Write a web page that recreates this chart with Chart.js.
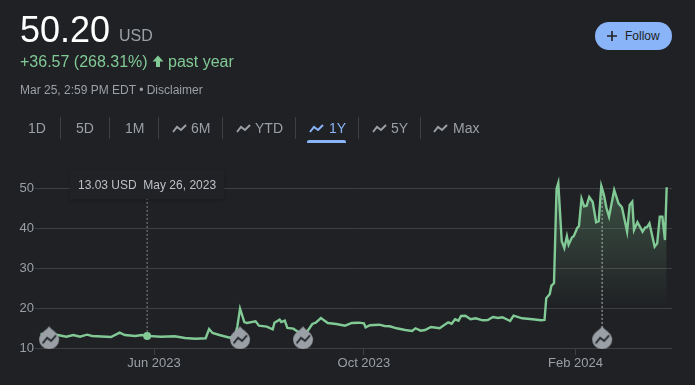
<!DOCTYPE html>
<html>
<head>
<meta charset="utf-8">
<script src="https://cdn.jsdelivr.net/npm/chart.js@4"></script>
<style>
  html, body { margin: 0; background: #202124; }
  body { width: 695px; height: 385px; position: relative; overflow: hidden; font-family: "Liberation Sans", Arial, sans-serif; color: #9aa0a6; }
  canvas { position: absolute; left: 0; top: 0; }
  .t { position: absolute; white-space: nowrap; }
  .tab { top: 118px; font-size: 14px; line-height: 20px; }
  .sep { position: absolute; top: 117px; width: 1px; height: 22px; background: #3c4043; }
  .ico { position: absolute; top: 123px; }
  #tip { position: absolute; left: 70px; top: 170px; width: 154px; height: 29px; background: #212225; box-shadow: 0 1px 4px rgba(0,0,0,.22); }
</style>
</head>
<body>
<canvas id="chart" width="695" height="385"></canvas>

<div class="t" style="left:20px;top:9px;font-size:36px;line-height:42px;color:#fff">50.20</div>
<div class="t" style="left:119px;top:26px;font-size:16px;line-height:20px">USD</div>
<div class="t" style="left:20px;top:52px;font-size:16px;line-height:20px;color:#81c995">+36.57 (268.31%)</div>
<svg class="ico" style="top:55px;left:152px" width="12" height="13" viewBox="0 0 12 13"><path d="M6 0.5 L11.5 6.5 H8 V12 H4 V6.5 H0.5 Z" fill="#81c995"/></svg>
<div class="t" style="left:168px;top:52px;font-size:16px;line-height:20px;color:#81c995">past year</div>
<div class="t" style="left:20px;top:82px;font-size:12px;line-height:16px">Mar 25, 2:59 PM EDT • Disclaimer</div>

<div class="t tab" style="left:28px">1D</div><div class="sep" style="left:60px"></div>
<div class="t tab" style="left:76px">5D</div><div class="sep" style="left:109px"></div>
<div class="t tab" style="left:125px">1M</div><div class="sep" style="left:158px"></div>
<svg class="ico" style="left:172px" width="15" height="11"><polyline points="1,9 5,4 9,7 14,2" fill="none" stroke="#9aa0a6" stroke-width="2"/></svg>
<div class="t tab" style="left:191px">6M</div><div class="sep" style="left:222px"></div>
<svg class="ico" style="left:236px" width="15" height="11"><polyline points="1,9 5,4 9,7 14,2" fill="none" stroke="#9aa0a6" stroke-width="2"/></svg>
<div class="t tab" style="left:255px">YTD</div><div class="sep" style="left:295px"></div>
<svg class="ico" style="left:309px" width="15" height="11"><polyline points="1,9 5,4 9,7 14,2" fill="none" stroke="#8ab4f8" stroke-width="2"/></svg>
<div class="t tab" style="left:329px;color:#8ab4f8">1Y</div>
<div style="position:absolute;left:307px;top:140px;width:39px;height:3px;border-radius:2px 2px 0 0;background:#8ab4f8"></div>
<div class="sep" style="left:358px"></div>
<svg class="ico" style="left:372px" width="15" height="11"><polyline points="1,9 5,4 9,7 14,2" fill="none" stroke="#9aa0a6" stroke-width="2"/></svg>
<div class="t tab" style="left:391px">5Y</div><div class="sep" style="left:420px"></div>
<svg class="ico" style="left:433px" width="15" height="11"><polyline points="1,9 5,4 9,7 14,2" fill="none" stroke="#9aa0a6" stroke-width="2"/></svg>
<div class="t tab" style="left:453px">Max</div>

<div style="position:absolute;left:595px;top:22px;width:77px;height:28px;border-radius:14px;background:#8ab4f8"></div>
<svg style="position:absolute;left:606px;top:30px" width="12" height="12"><path d="M6 1 V11 M1 6 H11" stroke="#202124" stroke-width="1.6"/></svg>
<div class="t" style="left:625px;top:28px;font-size:12px;line-height:16px;color:#202124">Follow</div>

<div id="tip"></div>
<div class="t" style="left:78px;top:177px;font-size:12px;line-height:16px;color:#bdc1c6">13.03 USD&nbsp;&nbsp;May 26, 2023</div>

<script>
// days since Mar 27 2023
const days = [0,10,15,19,23,27,30,41,46,49,55,59,62,70,78,84,90,96,98,100,104,110,113,114.4,116,118.5,120,125,127,131.5,135,136,139,140,142,143.5,147,150,155,158,160,163,167,172,177,181,185,188,189,191.5,197,200,203,207,212,216,218,221,223.5,227,232,237,239,241,243,244.5,247,250,253,257,260,263,266,268.5,273,275,280,286,291,293,294,296,297,298.5,300,301,303,304.5,306,307,309,310,312,313,314.5,316,317.5,319,321,323,324.5,326,327.5,329,330.5,333.5,336,338,341,342.5,344,345,347,350,351.5,352.5,354,357,358.5,360,361.5,363,364];
const prices = [13.5,13.25,12.83,13.25,12.83,13.33,13.0,12.75,13.83,13.25,13.0,13.25,13.03,12.83,12.93,12.5,12.33,12.43,14.75,13.75,13.25,12.58,13.0,15.33,19.83,16.5,16.25,16.68,15.58,15.33,14.68,16.33,17.08,16.5,16.83,15.0,14.83,13.93,14.08,16.0,16.33,17.5,16.25,16.0,15.58,16.25,16.33,16.18,15.18,15.68,15.83,15.5,15.43,14.93,14.5,14.25,14.93,14.33,14.5,15.25,14.93,16.43,16.08,17.18,16.83,18.0,18.08,17.18,17.43,16.93,17.0,17.75,17.5,17.68,16.75,18.08,17.43,17.18,16.93,17.0,22.43,23.43,25.58,26.18,49.83,51.25,36.68,35.0,37.93,35.83,37.68,37.93,40.0,40.43,47.33,45.43,45.58,47.75,46.5,41.43,41.68,50.5,48.33,45.0,42.83,49.5,46.18,45.18,39.08,45.75,46.58,39.5,41.43,39.08,40.08,40.18,41.18,35.33,36.18,42.83,42.83,37.0,50.2];
const tickDays = [66, 188, 311];
const tickLabels = ['Jun 2023', 'Oct 2023', 'Feb 2024'];
const yTicks = [10, 20, 30, 40, 50];
const pinDays = [5, 116, 152.6, 326.5];
const pinLevel = 12.67;
const hoverDay = 62;
const hoverPrice = 13.03;

const pts = (xs, ys) => xs.map((x, i) => ({ x: x, y: ys[i] }));

// drop shaped news pin
function makePin() {
  const c = document.createElement('canvas');
  c.width = 22; c.height = 24;
  const g = c.getContext('2d');
  g.fillStyle = '#9aa0a6';
  g.beginPath();
  g.moveTo(11, 1);
  g.bezierCurveTo(14, 5, 21, 8, 21, 14);
  g.arc(11, 14, 10, 0, Math.PI);
  g.bezierCurveTo(1, 8, 8, 5, 11, 1);
  g.fill();
  g.strokeStyle = '#202124';
  g.lineWidth = 1.8;
  g.beginPath();
  g.moveTo(4.5, 18); g.lineTo(9, 12.5); g.lineTo(13, 15.5); g.lineTo(18, 10);
  g.stroke();
  return c;
}

function areaFill(ctx) {
  const chart = ctx.chart;
  if (!chart.chartArea) return 'transparent';
  const y = chart.scales.y;
  const grad = chart.ctx.createLinearGradient(0, y.getPixelForValue(52), 0, y.getPixelForValue(20));
  grad.addColorStop(0, 'rgba(129,201,149,0.3)');
  grad.addColorStop(1, 'rgba(129,201,149,0)');
  return grad;
}

const dash = (day, top, width) => ({
  data: pts([day, day], [hoverPrice, top]),
  borderColor: 'rgba(154,160,166,0.8)', borderWidth: width, borderDash: [2, 2],
  pointRadius: 0, order: 3
});

new Chart(document.getElementById('chart').getContext('2d'), {
  type: 'line',
  data: {
    datasets: [
      {
        data: pts(days, prices),
        borderColor: '#81c995', borderWidth: 2.4, pointRadius: 0, tension: 0,
        fill: 'origin', backgroundColor: areaFill, order: 2
      },
      dash(hoverDay, 50, 1),
      dash(pinDays[3], 50.5, 1.5),
      {
        data: pts([hoverDay], [hoverPrice]),
        pointRadius: 4, pointBackgroundColor: '#81c995', pointBorderWidth: 0, showLine: false, order: 1
      },
      {
        data: pinDays.map(d => ({ x: d, y: pinLevel })),
        pointStyle: makePin(), showLine: false, order: 0, clip: false
      }
    ]
  },
  options: {
    responsive: false,
    animation: false,
    events: [],
    layout: { padding: { top: 168, right: 23, left: 0, bottom: 0 } },
    plugins: { legend: { display: false }, tooltip: { enabled: false } },
    scales: {
      x: {
        type: 'linear', min: -3.2, max: 367.1,
        afterFit: s => { s.height = 37; },
        afterBuildTicks: s => { s.ticks = tickDays.map(v => ({ value: v })); },
        border: { display: false },
        grid: { drawOnChartArea: false, drawTicks: true, tickLength: 7, color: '#3c4043' },
        ticks: {
          color: '#9aa0a6', font: { family: 'Liberation Sans', size: 13 }, padding: 1,
          maxRotation: 0, autoSkip: false,
          callback: v => tickLabels[tickDays.indexOf(v)]
        }
      },
      y: {
        min: 10, max: 55,
        afterFit: s => { s.width = 35; },
        afterBuildTicks: s => { s.ticks = yTicks.map(v => ({ value: v })); },
        border: { display: false },
        grid: { color: '#3c4043', drawTicks: false },
        ticks: { color: '#9aa0a6', font: { family: 'Liberation Sans', size: 13 }, padding: 1 }
      }
    }
  }
});
</script>
</body>
</html>
